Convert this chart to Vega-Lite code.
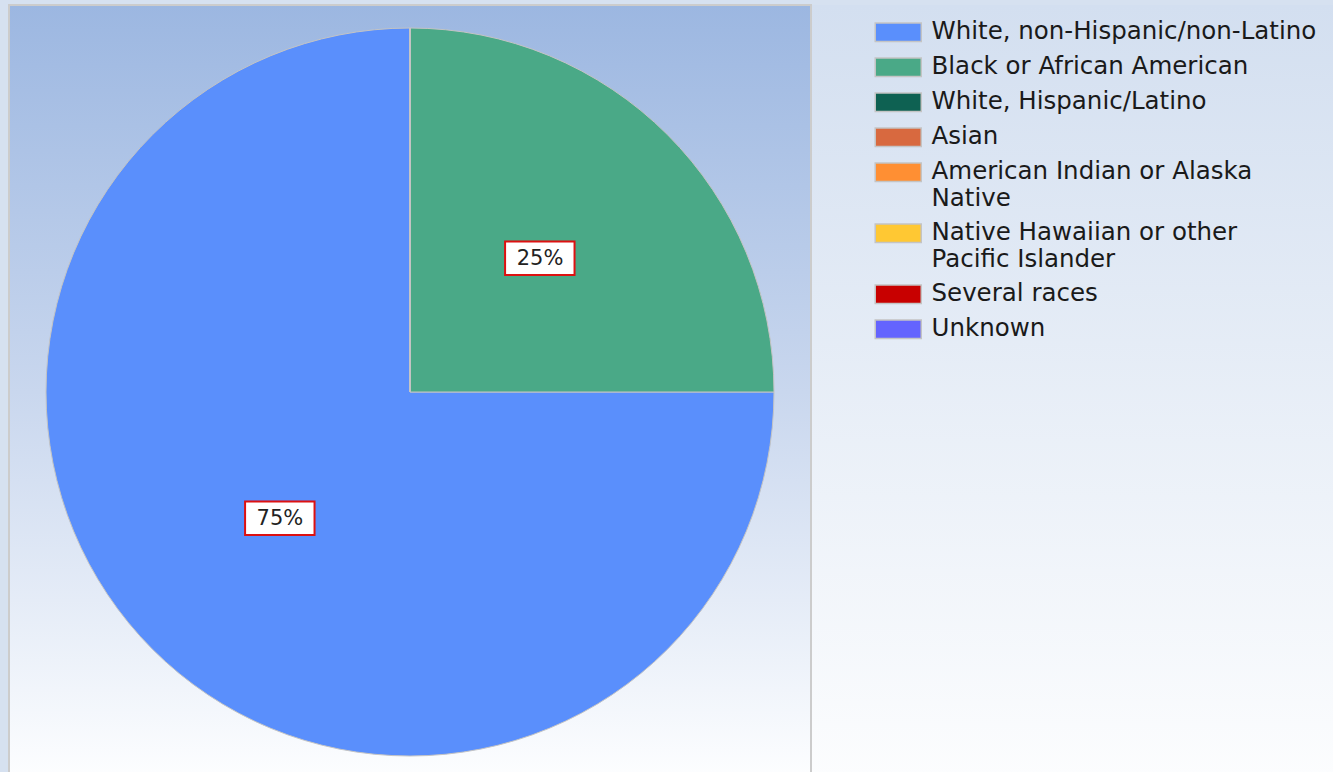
{
  "$schema": "https://vega.github.io/schema/vega-lite/v6.json",
  "padding": {"left": 8, "top": 4, "right": 0, "bottom": 0},
  "background": "#d6e1f0",
  "config": {"view": {"stroke": null}, "concat": {"spacing": 0}},
  "datasets": {
    "races": [
      {"race": "White, non-Hispanic/non-Latino", "count": 3, "label": "75%"},
      {"race": "Black or African American", "count": 1, "label": "25%"},
      {"race": "White, Hispanic/Latino", "count": 0, "label": "0%"},
      {"race": "Asian", "count": 0, "label": "0%"},
      {"race": "American Indian or Alaska Native", "count": 0, "label": "0%"},
      {"race": "Native Hawaiian or other Pacific Islander", "count": 0, "label": "0%"},
      {"race": "Several races", "count": 0, "label": "0%"},
      {"race": "Unknown", "count": 0, "label": "0%"}
    ]
  },
  "hconcat": [
    {
      "width": 802,
      "height": 774,
      "layer": [
        {
          "data": {"values": [{"panel": "plot"}]},
          "mark": {
            "type": "rect",
            "stroke": "#cccccc",
            "strokeWidth": 2,
            "fill": {
              "gradient": "linear", "x1": 0, "y1": 0, "x2": 0, "y2": 1,
              "stops": [
                {"offset": 0, "color": "#9cb7e1"},
                {"offset": 0.5, "color": "#c9d7ee"},
                {"offset": 1, "color": "#fdfeff"}
              ]
            }
          },
          "encoding": {}
        },
        {
          "data": {"name": "races"},
          "mark": {"type": "arc", "outerRadius": 364, "stroke": "#c4c4c4", "strokeWidth": 1},
          "encoding": {
            "theta": {"field": "count", "type": "quantitative", "stack": true},
            "order": {"field": "count", "sort": "ascending"},
            "color": {
              "field": "race",
              "type": "nominal",
              "scale": {
                "domain": [
                  "White, non-Hispanic/non-Latino",
                  "Black or African American",
                  "White, Hispanic/Latino",
                  "Asian",
                  "American Indian or Alaska Native",
                  "Native Hawaiian or other Pacific Islander",
                  "Several races",
                  "Unknown"
                ],
                "range": ["#5a8ffc", "#4aa987", "#0e6152", "#d8693f", "#ff8f33", "#ffc833", "#c80000", "#6464fe"]
              },
              "legend": {
                "orient": "none",
                "legendX": 877,
                "legendY": 15,
                "title": null,
                "padding": 0,
                "symbolType": "M-2.5,-1H2.5V1H-2.5Z",
                "symbolSize": 339,
                "symbolStrokeColor": "#c4c4c4",
                "symbolStrokeWidth": 1.5,
                "symbolOpacity": 1,
                "labelFont": "DejaVu Sans",
                "labelFontSize": 24.5,
                "labelColor": "#1a1a1a",
                "labelLimit": 600,
                "labelOffset": 21,
                "rowPadding": 9,
                "labelExpr": "datum.label == 'American Indian or Alaska Native' ? ['American Indian or Alaska', 'Native'] : datum.label == 'Native Hawaiian or other Pacific Islander' ? ['Native Hawaiian or other', 'Pacific Islander'] : datum.label"
              }
            }
          }
        },
        {
          "data": {"name": "races"},
          "transform": [{"filter": "datum.count > 0"}],
          "mark": {"type": "text", "radius": 184, "text": "▬", "font": "DejaVu Sans", "fontSize": 91, "dy": -7, "fill": "white", "stroke": "#dd1111", "strokeWidth": 2},
          "encoding": {
            "theta": {"field": "count", "type": "quantitative", "stack": true},
            "order": {"field": "count", "sort": "ascending"}
          }
        },
        {
          "data": {"name": "races"},
          "transform": [{"filter": "datum.count > 0"}],
          "mark": {"type": "text", "radius": 184, "font": "DejaVu Sans", "fontSize": 21, "dy": -3, "fill": "#222222"},
          "encoding": {
            "theta": {"field": "count", "type": "quantitative", "stack": true},
            "order": {"field": "count", "sort": "ascending"},
            "text": {"field": "label"}
          }
        }
      ]
    },
    {
      "width": 523,
      "height": 774,
      "data": {"values": [{"panel": "legend"}]},
      "mark": {
        "type": "rect",
        "fill": {
          "gradient": "linear", "x1": 0, "y1": 0, "x2": 0, "y2": 1,
          "stops": [
            {"offset": 0, "color": "#d3dff0"},
            {"offset": 1, "color": "#fcfdfe"}
          ]
        }
      },
      "encoding": {}
    }
  ]
}
